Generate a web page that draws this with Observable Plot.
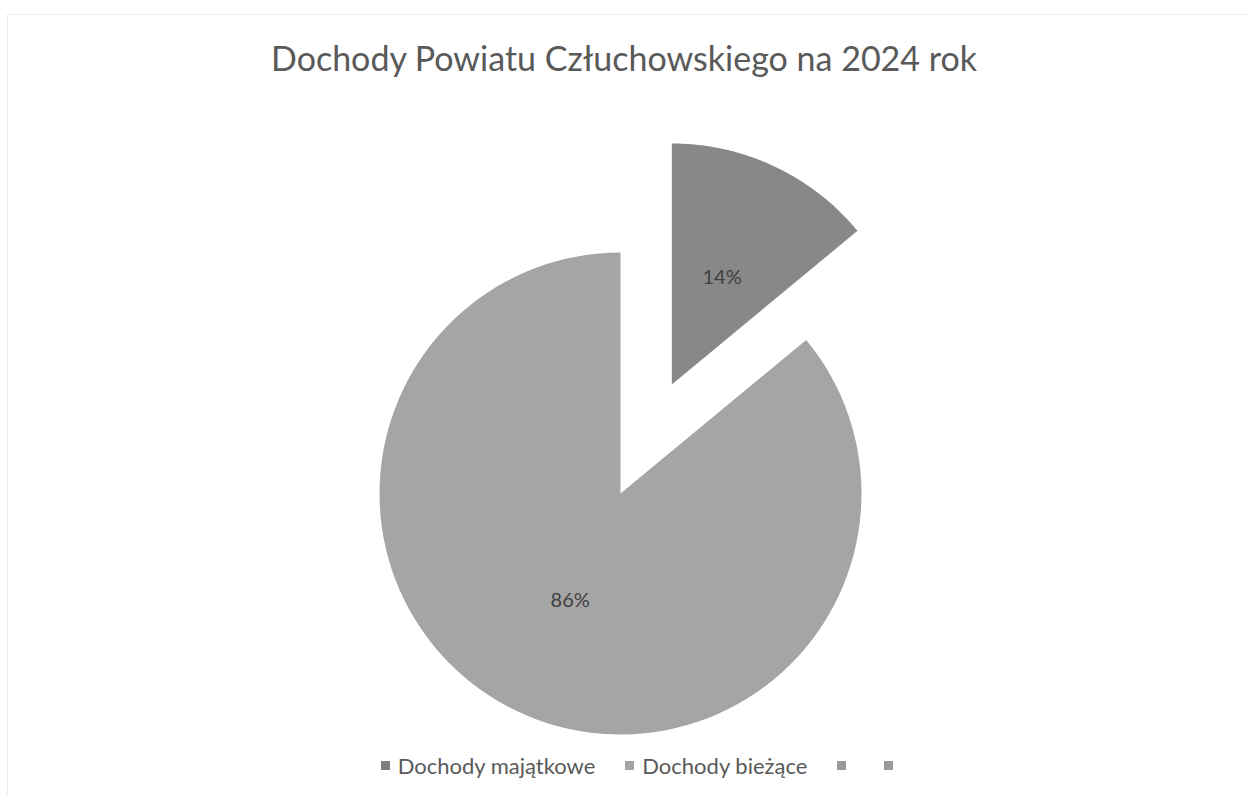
<!DOCTYPE html>
<html>
<head>
<meta charset="utf-8">
<script src="https://cdn.jsdelivr.net/npm/d3@7"></script>
<script src="https://cdn.jsdelivr.net/npm/@observablehq/plot@0.6"></script>
<style>
  html, body { margin: 0; padding: 0; background: #fff; }
  #frame { position: relative; width: 1248px; height: 795px; overflow: hidden; font-family: Lato, "Open Sans", sans-serif; }
  #border { position: absolute; left: 7px; top: 14px; width: 1300px; height: 900px; border-left: 1px solid #ececec; border-top: 1px solid #ececec; }
  #title { position: absolute; left: 0; top: 37px; width: 1248px; text-align: center; font-size: 34px; color: #595959; }
  #chart { position: absolute; left: 0; top: 100px; }
  #legend { position: absolute; left: 0; top: 752px; width: 1248px; display: flex; justify-content: center; font-size: 22px; color: #595959; padding-left: 64px; box-sizing: border-box; }
  .item { display: flex; align-items: center; margin-right: 30px; }
  .sw { width: 9px; height: 9px; margin-right: 8px; }
</style>
</head>
<body>
<div id="frame">
  <div id="border"></div>
  <div id="title"></div>
  <div id="chart"></div>
  <div id="legend"></div>
</div>
<script>
const title = "Dochody Powiatu Człuchowskiego na 2024 rok";
const categories = ["Dochody majątkowe", "Dochody bieżące"];
const values = [14, 86];
const labels = ["14%", "86%"];
const legendNames = ["Dochody majątkowe", "Dochody bieżące", "", ""];
const colors = ["#888888", "#a5a5a5"];
const legendColors = ["#7d7d7d", "#a3a3a3", "#9a9a9a", "#9a9a9a"];
const explode = [0.50, 0];

document.getElementById("title").textContent = title;

// layout constants (pixels)
const W = 1248, H = 650, R = 241, CX = 620, CY = 393;

const pie = d3.pie().sort(null).value(d => d.value)(categories.map((c, i) => ({c, value: values[i], i})));

const poly = [];
const text = [];
for (const p of pie) {
  const i = p.data.i;
  const mid = (p.startAngle + p.endAngle) / 2;
  const ox = explode[i] * Math.sin(mid), oy = explode[i] * Math.cos(mid);
  poly.push({c: p.data.c, x: ox, y: oy});
  const n = 120;
  for (let k = 0; k <= n; k++) {
    const a = p.startAngle + (p.endAngle - p.startAngle) * k / n;
    poly.push({c: p.data.c, x: ox + Math.sin(a), y: oy + Math.cos(a)});
  }
  poly.push({c: p.data.c, x: ox, y: oy});
  text.push({label: labels[i], x: ox + 0.49 * Math.sin(mid), y: oy + 0.49 * Math.cos(mid)});
}

const chart = Plot.plot({
  width: W, height: H, margin: 0,
  x: {domain: [-CX / R, (W - CX) / R], axis: null},
  y: {domain: [-(H - CY) / R, CY / R], axis: null},
  color: {domain: categories, range: colors},
  marks: [
    Plot.line(poly, {x: "x", y: "y", z: "c", fill: "c", stroke: "none", curve: "linear"}),
    Plot.text(text, {x: "x", y: "y", text: "label", fontSize: 20, fill: "#404040", fontFamily: "Lato, 'Open Sans', sans-serif"})
  ]
});
document.getElementById("chart").appendChild(chart);

const leg = document.getElementById("legend");
legendNames.forEach((n, i) => {
  const it = document.createElement("div");
  it.className = "item";
  const sw = document.createElement("div");
  sw.className = "sw";
  sw.style.background = legendColors[i];
  it.appendChild(sw);
  const t = document.createElement("span");
  t.textContent = n;
  it.appendChild(t);
  leg.appendChild(it);
});
</script>
</body>
</html>
